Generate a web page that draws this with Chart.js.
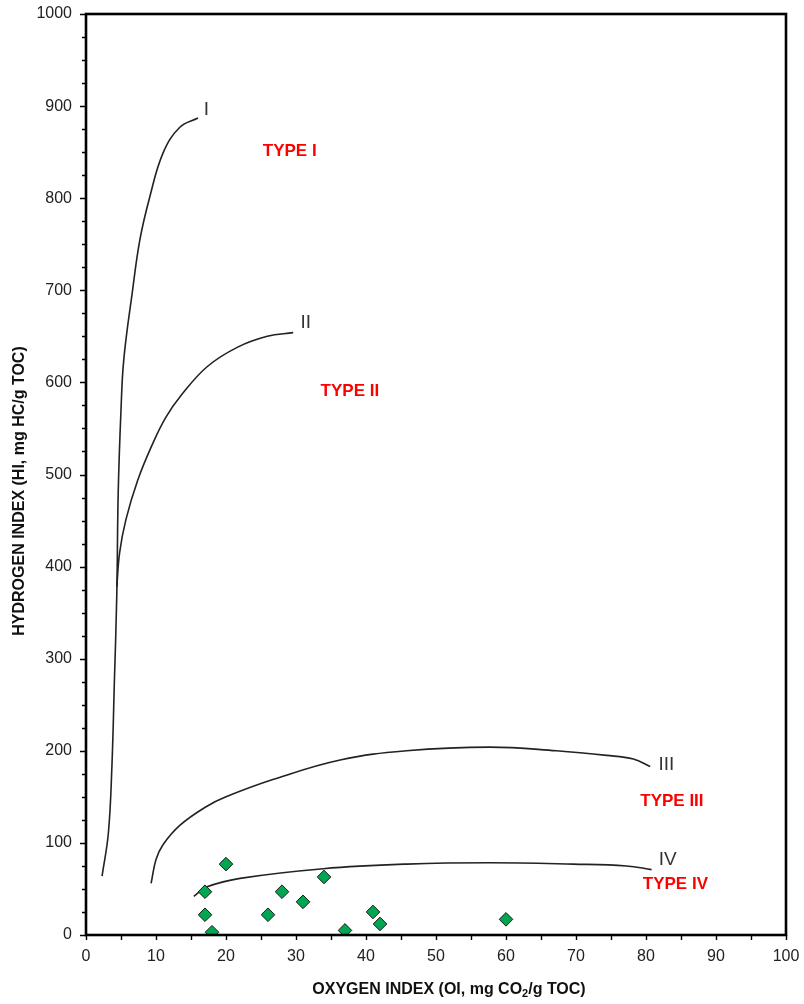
<!DOCTYPE html>
<html>
<head>
<meta charset="utf-8">
<script src="https://cdn.jsdelivr.net/npm/chart.js@4.4.1/dist/chart.umd.min.js"></script>
<style>
  html, body { margin: 0; padding: 0; background: #fff; }
  canvas { display: block; }
</style>
</head>
<body>
<canvas id="c" width="804" height="1004"></canvas>
<script>
// ---- Data ----
// Samples: Oxygen Index (OI) vs Hydrogen Index (HI)
const sampleOI = [17, 17, 18, 20, 26, 28, 31, 34, 37, 41, 42, 60];
const sampleHI = [47, 22, 3, 77, 22, 47, 36, 63, 5, 25, 12, 17];

// Kerogen evolution curves
const curveI_OI = [2.3, 3.2, 3.7, 4.05, 4.4, 4.6, 5.0, 5.4, 6.6, 7.7, 9.1, 11, 13.4, 16];
const curveI_HI = [64, 111, 183, 274, 370, 480, 570, 625, 697, 755, 801, 849, 877, 887];

const curveII_OI = [4.4, 4.8, 5.7, 7.4, 9.5, 11.4, 13.6, 17.3, 21.6, 25.9, 29.6];
const curveII_HI = [378, 415, 451, 494, 533, 562, 586, 617, 638, 650, 654];

const curveIII_OI = [9.3, 10.0, 11.0, 13.4, 17.1, 20.0, 26.8, 36.3, 45.8, 57.7, 67.2, 74.4, 78.2, 80.6];
const curveIII_HI = [56, 82, 98, 119, 139, 150, 169, 190, 200, 204, 200, 195, 191, 183];

const curveIV_OI = [15.4, 17.2, 22, 33.9, 45.8, 57.7, 69.6, 77.2, 80.8];
const curveIV_HI = [42, 52, 61.5, 72, 77, 78.5, 77, 75, 71];

// Curve labels and type annotations (data coordinates)
const curveLabels = ['I', 'II', 'III', 'IV'];
const curveLabelOI = [17.2, 31.4, 82.9, 83.1];
const curveLabelHI = [896, 665, 185, 82];

const typeLabels = ['TYPE I', 'TYPE II', 'TYPE III', 'TYPE IV'];
const typeLabelOI = [29.1, 37.7, 83.7, 84.2];
const typeLabelHI = [851, 590, 145, 55];

const xTitleParts = ['OXYGEN INDEX (OI, mg CO', '2', '/g TOC)'];
const yTitle = 'HYDROGEN INDEX (HI, mg HC/g TOC)';

// ---- helpers ----
const toPts = (xs, ys) => xs.map((v, i) => ({ x: v, y: ys[i] }));
const FONT = "'Liberation Sans', Arial, Helvetica, sans-serif";

const curveStyle = {
  type: 'line',
  borderColor: '#222',
  borderWidth: 1.6,
  pointRadius: 0,
  fill: false,
  tension: 0.4,
  order: 2
};

const decor = {
  id: 'decor',
  afterDraw(chart) {
    const { ctx, chartArea: a, scales: { x, y } } = chart;
    ctx.save();
    ctx.strokeStyle = '#000';
    ctx.lineWidth = 1.4;
    ctx.beginPath();
    for (let v = 0; v <= 1000; v += 25) {
      const py = Math.round(y.getPixelForValue(v)) + 0.5;
      const len = v % 100 === 0 ? 6 : 4;
      ctx.moveTo(a.left - len, py);
      ctx.lineTo(a.left, py);
    }
    for (let v = 0; v <= 100; v += 5) {
      const px = Math.round(x.getPixelForValue(v)) + 0.5;
      ctx.moveTo(px, a.bottom);
      ctx.lineTo(px, a.bottom + 5);
    }
    ctx.stroke();
    // frame
    ctx.lineWidth = 2.6;
    ctx.strokeRect(a.left, a.top, a.right - a.left, a.bottom - a.top);

    // curve labels
    ctx.textAlign = 'center';
    ctx.textBaseline = 'middle';
    ctx.fillStyle = '#333';
    ctx.font = '19px ' + FONT;
    curveLabels.forEach((t, i) => {
      ctx.fillText(t, x.getPixelForValue(curveLabelOI[i]), y.getPixelForValue(curveLabelHI[i]));
    });
    // type labels
    ctx.fillStyle = '#ff0000';
    ctx.font = 'bold 17px ' + FONT;
    typeLabels.forEach((t, i) => {
      ctx.fillText(t, x.getPixelForValue(typeLabelOI[i]), y.getPixelForValue(typeLabelHI[i]));
    });

    // x title with subscript
    ctx.fillStyle = '#111';
    ctx.textAlign = 'left';
    ctx.textBaseline = 'alphabetic';
    const big = 'bold 16px ' + FONT, small = 'bold 11px ' + FONT;
    ctx.font = big;
    const w1 = ctx.measureText(xTitleParts[0]).width;
    const w3 = ctx.measureText(xTitleParts[2]).width;
    ctx.font = small;
    const w2 = ctx.measureText(xTitleParts[1]).width;
    const total = w1 + w2 + w3;
    const cx = 449, base = 994;
    let sx = cx - total / 2;
    ctx.font = big; ctx.fillText(xTitleParts[0], sx, base); sx += w1;
    ctx.font = small; ctx.fillText(xTitleParts[1], sx, base + 3); sx += w2;
    ctx.font = big; ctx.fillText(xTitleParts[2], sx, base);

    // y title
    ctx.save();
    ctx.translate(20, 491);
    ctx.rotate(-Math.PI / 2);
    ctx.textAlign = 'center';
    ctx.textBaseline = 'middle';
    ctx.font = big;
    ctx.fillText(yTitle, 0, 0);
    ctx.restore();

    ctx.restore();
  }
};

new Chart(document.getElementById('c'), {
  data: {
    datasets: [
      {
        type: 'scatter',
        data: toPts(sampleOI, sampleHI),
        pointStyle: 'rectRot',
        pointRadius: 6.8,
        pointHoverRadius: 6.8,
        backgroundColor: '#00a650',
        borderColor: '#1a1a1a',
        borderWidth: 1,
        order: 1
      },
      Object.assign({ data: toPts(curveI_OI, curveI_HI) }, curveStyle),
      Object.assign({ data: toPts(curveII_OI, curveII_HI) }, curveStyle),
      Object.assign({ data: toPts(curveIII_OI, curveIII_HI) }, curveStyle),
      Object.assign({ data: toPts(curveIV_OI, curveIV_HI) }, curveStyle)
    ]
  },
  options: {
    responsive: false,
    animation: false,
    events: [],
    layout: { padding: { top: 14, right: 18, left: 0, bottom: 0 } },
    plugins: { legend: { display: false }, tooltip: { enabled: false } },
    scales: {
      x: {
        type: 'linear', position: 'bottom', min: 0, max: 100,
        ticks: { stepSize: 10, font: { family: FONT, size: 16 }, color: '#222', padding: 12, maxRotation: 0,
                 callback: v => String(v) },
        grid: { display: false, drawTicks: false },
        border: { display: false },
        afterFit(s) { s.height = 69; s.paddingLeft = 0; s.paddingRight = 0; }
      },
      y: {
        type: 'linear', position: 'left', min: 0, max: 1000,
        ticks: { stepSize: 100, font: { family: FONT, size: 16 }, color: '#222', padding: 14,
                 callback: v => String(v) },
        grid: { display: false, drawTicks: false },
        border: { display: false },
        afterFit(s) { s.width = 86; s.paddingTop = 0; s.paddingBottom = 0; }
      }
    }
  },
  plugins: [decor]
});
</script>
</body>
</html>
